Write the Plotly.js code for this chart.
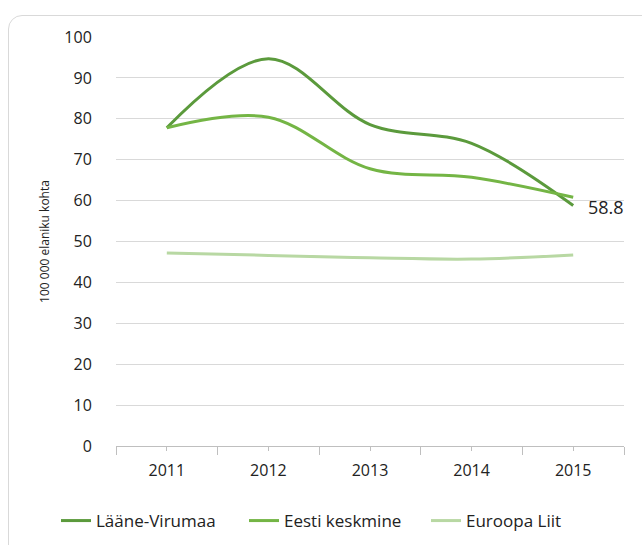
<!DOCTYPE html>
<html lang="et">
<head>
    <meta charset="UTF-8">
    <title>Lääne-Virumaa</title>
    <script src="https://cdn.plot.ly/plotly-3.0.1.min.js"></script>
    <style>
        body {
            margin: 0;
            padding: 0;
            background: white;
            overflow: hidden;
        }

        #frame {
            position: absolute;
            left: 8px;
            top: 15px;
            width: 680px;
            height: 580px;
            border: 1px solid #d9d9d9;
            border-radius: 14px;
        }

        #plot {
            position: absolute;
            left: 0;
            top: 0;
            width: 642px;
            height: 545px;
        }
    </style>
</head>
<body>
    <div id="frame"></div>
    <div id="plot"></div>

    <script>
        const years = [2011, 2012, 2013, 2014, 2015];
        const laaneVirumaa = [77.8, 94.7, 78.6, 74.0, 58.8];
        const eestiKeskmine = [77.8, 80.4, 67.8, 65.7, 60.8];
        const euroopaLiit = [47.2, 46.6, 46.0, 45.7, 46.7];
        const yTicks = [0, 10, 20, 30, 40, 50, 60, 70, 80, 90, 100];

        const font = '"Open Sans", "Liberation Sans", sans-serif';

        // each series gets its own legend box so the entries can sit like in the original
        function series(name, values, color, legendId) {
            return {
                x: years,
                y: values,
                name: name,
                type: 'scatter',
                mode: 'lines',
                legend: legendId,
                line: {color: color, width: 3, shape: 'spline', smoothing: 1}
            };
        }

        const traces = [
            series('Lääne-Virumaa', laaneVirumaa, '#5b9a3c', 'legend'),
            series('Eesti keskmine', eestiKeskmine, '#74b545', 'legend2'),
            series('Euroopa Liit', euroopaLiit, '#b8d8a3', 'legend3')
        ];

        function legendAt(left) {
            return {
                orientation: 'h',
                x: left / 642,
                xref: 'container',
                xanchor: 'left',
                y: 0.044,
                yref: 'container',
                yanchor: 'middle',
                bgcolor: 'rgba(0,0,0,0)',
                font: {family: font, size: 17, color: '#222'}
            };
        }

        const layout = {
            width: 642,
            height: 545,
            margin: {l: 116, r: 18, t: 37, b: 99},
            paper_bgcolor: 'rgba(0,0,0,0)',
            plot_bgcolor: 'rgba(0,0,0,0)',
            font: {family: font, size: 16, color: '#222'},
            showlegend: true,
            legend: legendAt(56),
            legend2: legendAt(244),
            legend3: legendAt(426),
            xaxis: {
                range: [years[0] - 0.5, years[years.length - 1] + 0.5],
                tickvals: years,
                showline: true,
                linecolor: '#bfbfbf',
                linewidth: 1,
                ticks: 'outside',
                ticklen: 4,
                tickcolor: '#bfbfbf',
                minor: {
                    tick0: years[0] - 0.5,
                    dtick: 1,
                    ticks: 'outside',
                    ticklen: 8,
                    tickcolor: '#bfbfbf',
                    showgrid: false
                },
                showgrid: false,
                zeroline: false,
                ticklabelstandoff: 6,
                tickfont: {family: font, size: 16, color: '#222'}
            },
            yaxis: {
                range: [0, 100],
                tickvals: yTicks,
                showgrid: true,
                gridcolor: '#d9d9d9',
                gridwidth: 1,
                zeroline: false,
                showline: false,
                ticks: 'outside',
                ticklen: 20,
                tickcolor: 'rgba(0,0,0,0)',
                tickfont: {family: font, size: 16, color: '#222'},
                title: {
                    text: '100 000 elaniku kohta',
                    font: {family: font, size: 12, color: '#222'},
                    standoff: 12
                }
            },
            annotations: [{
                x: years[4],
                y: laaneVirumaa[4],
                text: String(laaneVirumaa[4]),
                showarrow: false,
                xanchor: 'left',
                xshift: 13,
                yshift: -1,
                font: {family: font, size: 18, color: '#222'}
            }]
        };

        Plotly.newPlot('plot', traces, layout, {displayModeBar: false, staticPlot: true});
    </script>
</body>
</html>
